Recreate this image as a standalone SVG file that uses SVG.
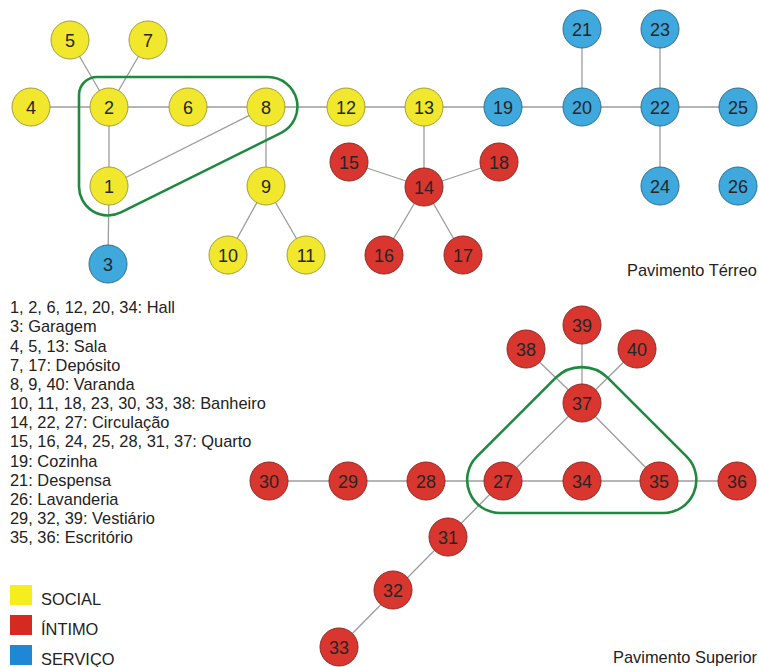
<svg xmlns="http://www.w3.org/2000/svg" width="759" height="667" viewBox="0 0 759 667">
  <style>
    .edge { stroke: #9c9c9c; stroke-width: 1.3; fill: none; }
    .zone { stroke: #1f8a3f; stroke-width: 2.6; fill: none; }
    .node circle { stroke-width: 1; }
    .social circle { fill: #f1e82e; stroke: #a39c3a; }
    .intimo circle { fill: #d8362e; stroke: #8e2a24; }
    .servico circle { fill: #3fa8dd; stroke: #2d6f90; }
    .node text { font-family: "Liberation Sans", Arial, sans-serif; font-size: 18px; fill: #262626; text-anchor: middle; }
    .label { font-family: "Liberation Sans", Arial, sans-serif; font-size: 16.4px; fill: #222; }
  </style>

  <!-- connectors -->
  <g id="connectors">
    <!-- ground floor -->
    <line class="edge" x1="31" y1="107" x2="109" y2="107"/>
    <line class="edge" x1="70" y1="40" x2="109" y2="107"/>
    <line class="edge" x1="148" y1="40" x2="109" y2="107"/>
    <line class="edge" x1="109" y1="107" x2="188" y2="107"/>
    <line class="edge" x1="188" y1="107" x2="266" y2="107"/>
    <line class="edge" x1="266" y1="107" x2="346" y2="107"/>
    <line class="edge" x1="346" y1="107" x2="424" y2="107"/>
    <line class="edge" x1="424" y1="107" x2="503" y2="107"/>
    <line class="edge" x1="503" y1="107" x2="582" y2="107"/>
    <line class="edge" x1="582" y1="107" x2="660" y2="107"/>
    <line class="edge" x1="660" y1="107" x2="738" y2="107"/>
    <line class="edge" x1="582" y1="29" x2="582" y2="107"/>
    <line class="edge" x1="660" y1="29" x2="660" y2="107"/>
    <line class="edge" x1="660" y1="107" x2="660" y2="186"/>
    <line class="edge" x1="109" y1="107" x2="109" y2="186"/>
    <line class="edge" x1="109" y1="186" x2="266" y2="107"/>
    <line class="edge" x1="109" y1="186" x2="108" y2="264"/>
    <line class="edge" x1="266" y1="107" x2="266" y2="186"/>
    <line class="edge" x1="266" y1="186" x2="228" y2="255"/>
    <line class="edge" x1="266" y1="186" x2="306" y2="255"/>
    <line class="edge" x1="424" y1="107" x2="424" y2="187"/>
    <line class="edge" x1="424" y1="187" x2="349" y2="162"/>
    <line class="edge" x1="424" y1="187" x2="499" y2="162"/>
    <line class="edge" x1="424" y1="187" x2="384" y2="255"/>
    <line class="edge" x1="424" y1="187" x2="463" y2="255"/>
    <!-- upper floor -->
    <line class="edge" x1="269" y1="481" x2="737" y2="481"/>
    <line class="edge" x1="503" y1="481" x2="582" y2="403"/>
    <line class="edge" x1="582" y1="403" x2="659" y2="481"/>
    <line class="edge" x1="582" y1="403" x2="582" y2="325"/>
    <line class="edge" x1="582" y1="403" x2="526" y2="349"/>
    <line class="edge" x1="582" y1="403" x2="637" y2="349"/>
    <line class="edge" x1="503" y1="481" x2="339" y2="647"/>
  </g>

  <!-- grouped zones -->
  <path id="zone-terreo" class="zone" d="M 97,77 L 268,77 A 29.5 29.5 0 0 1 281.1,132.9 L 120.9,212.4 A 29 29 0 0 1 79,186.4 L 79,95 A 18 18 0 0 1 97,77 Z"/>
  <path id="zone-superior" class="zone" d="M 555.6,377.9 A 37 37 0 0 1 607.9,377.9 L 686.7,456.7 A 33 33 0 0 1 663.3,513 L 500.2,513 A 33 33 0 0 1 476.8,456.7 Z"/>

  <!-- ground floor nodes -->
  <g id="n1" class="node social"><circle cx="109" cy="186" r="19"/><text x="109" y="192.5">1</text></g>
  <g id="n2" class="node social"><circle cx="109" cy="107" r="19"/><text x="109" y="113.5">2</text></g>
  <g id="n3" class="node servico"><circle cx="108" cy="264" r="19"/><text x="108" y="270.5">3</text></g>
  <g id="n4" class="node social"><circle cx="31" cy="107" r="19"/><text x="31" y="113.5">4</text></g>
  <g id="n5" class="node social"><circle cx="70" cy="40" r="19"/><text x="70" y="46.5">5</text></g>
  <g id="n6" class="node social"><circle cx="188" cy="107" r="19"/><text x="188" y="113.5">6</text></g>
  <g id="n7" class="node social"><circle cx="148" cy="40" r="19"/><text x="148" y="46.5">7</text></g>
  <g id="n8" class="node social"><circle cx="266" cy="107" r="19"/><text x="266" y="113.5">8</text></g>
  <g id="n9" class="node social"><circle cx="266" cy="186" r="19"/><text x="266" y="192.5">9</text></g>
  <g id="n10" class="node social"><circle cx="228" cy="255" r="19"/><text x="228" y="261.5">10</text></g>
  <g id="n11" class="node social"><circle cx="306" cy="255" r="19"/><text x="306" y="261.5">11</text></g>
  <g id="n12" class="node social"><circle cx="346" cy="107" r="19"/><text x="346" y="113.5">12</text></g>
  <g id="n13" class="node social"><circle cx="424" cy="107" r="19"/><text x="424" y="113.5">13</text></g>
  <g id="n14" class="node intimo"><circle cx="424" cy="187" r="19"/><text x="424" y="193.5">14</text></g>
  <g id="n15" class="node intimo"><circle cx="349" cy="162" r="19"/><text x="349" y="168.5">15</text></g>
  <g id="n16" class="node intimo"><circle cx="384" cy="255" r="19"/><text x="384" y="261.5">16</text></g>
  <g id="n17" class="node intimo"><circle cx="463" cy="255" r="19"/><text x="463" y="261.5">17</text></g>
  <g id="n18" class="node intimo"><circle cx="499" cy="162" r="19"/><text x="499" y="168.5">18</text></g>
  <g id="n19" class="node servico"><circle cx="503" cy="107" r="19"/><text x="503" y="113.5">19</text></g>
  <g id="n20" class="node servico"><circle cx="582" cy="107" r="19"/><text x="582" y="113.5">20</text></g>
  <g id="n21" class="node servico"><circle cx="582" cy="29" r="19"/><text x="582" y="35.5">21</text></g>
  <g id="n22" class="node servico"><circle cx="660" cy="107" r="19"/><text x="660" y="113.5">22</text></g>
  <g id="n23" class="node servico"><circle cx="660" cy="29" r="19"/><text x="660" y="35.5">23</text></g>
  <g id="n24" class="node servico"><circle cx="660" cy="186" r="19"/><text x="660" y="192.5">24</text></g>
  <g id="n25" class="node servico"><circle cx="738" cy="107" r="19"/><text x="738" y="113.5">25</text></g>
  <g id="n26" class="node servico"><circle cx="738" cy="186" r="19"/><text x="738" y="192.5">26</text></g>

  <!-- upper floor nodes -->
  <g id="n27" class="node intimo"><circle cx="503" cy="481" r="19"/><text x="503" y="487.5">27</text></g>
  <g id="n28" class="node intimo"><circle cx="426" cy="481" r="19"/><text x="426" y="487.5">28</text></g>
  <g id="n29" class="node intimo"><circle cx="348" cy="481" r="19"/><text x="348" y="487.5">29</text></g>
  <g id="n30" class="node intimo"><circle cx="269" cy="481" r="19"/><text x="269" y="487.5">30</text></g>
  <g id="n31" class="node intimo"><circle cx="448" cy="537" r="19"/><text x="448" y="543.5">31</text></g>
  <g id="n32" class="node intimo"><circle cx="393" cy="590" r="19"/><text x="393" y="596.5">32</text></g>
  <g id="n33" class="node intimo"><circle cx="339" cy="647" r="19"/><text x="339" y="653.5">33</text></g>
  <g id="n34" class="node intimo"><circle cx="582" cy="481" r="19"/><text x="582" y="487.5">34</text></g>
  <g id="n35" class="node intimo"><circle cx="659" cy="481" r="19"/><text x="659" y="487.5">35</text></g>
  <g id="n36" class="node intimo"><circle cx="737" cy="481" r="19"/><text x="737" y="487.5">36</text></g>
  <g id="n37" class="node intimo"><circle cx="582" cy="403" r="19"/><text x="582" y="409.5">37</text></g>
  <g id="n38" class="node intimo"><circle cx="526" cy="349" r="19"/><text x="526" y="355.5">38</text></g>
  <g id="n39" class="node intimo"><circle cx="582" cy="325" r="19"/><text x="582" y="331.5">39</text></g>
  <g id="n40" class="node intimo"><circle cx="637" cy="349" r="19"/><text x="637" y="355.5">40</text></g>

  <!-- floor captions -->
  <text class="label" x="757" y="276" text-anchor="end">Pavimento Térreo</text>
  <text class="label" x="757" y="663" text-anchor="end">Pavimento Superior</text>

  <!-- room key -->
  <g id="room-key" class="label">
    <text x="10" y="313.3">1, 2, 6, 12, 20, 34: Hall</text>
    <text x="10" y="332.4">3: Garagem</text>
    <text x="10" y="351.6">4, 5, 13: Sala</text>
    <text x="10" y="370.7">7, 17: Depósito</text>
    <text x="10" y="389.9">8, 9, 40: Varanda</text>
    <text x="10" y="409">10, 11, 18, 23, 30, 33, 38: Banheiro</text>
    <text x="10" y="428.2">14, 22, 27: Circulação</text>
    <text x="10" y="447.3">15, 16, 24, 25, 28, 31, 37: Quarto</text>
    <text x="10" y="466.5">19: Cozinha</text>
    <text x="10" y="485.6">21: Despensa</text>
    <text x="10" y="504.8">26: Lavanderia</text>
    <text x="10" y="523.9">29, 32, 39: Vestiário</text>
    <text x="10" y="543.1">35, 36: Escritório</text>
  </g>

  <!-- colour key -->
  <g id="colour-key">
    <rect x="10" y="585" width="22" height="20" fill="#f5ee1c"/>
    <rect x="10" y="615" width="22" height="20" fill="#d6291f"/>
    <rect x="10" y="645" width="22" height="20" fill="#1f88d6"/>
    <text class="label" x="41" y="605">SOCIAL</text>
    <text class="label" x="41" y="635">ÍNTIMO</text>
    <text class="label" x="41" y="665">SERVIÇO</text>
  </g>
</svg>
